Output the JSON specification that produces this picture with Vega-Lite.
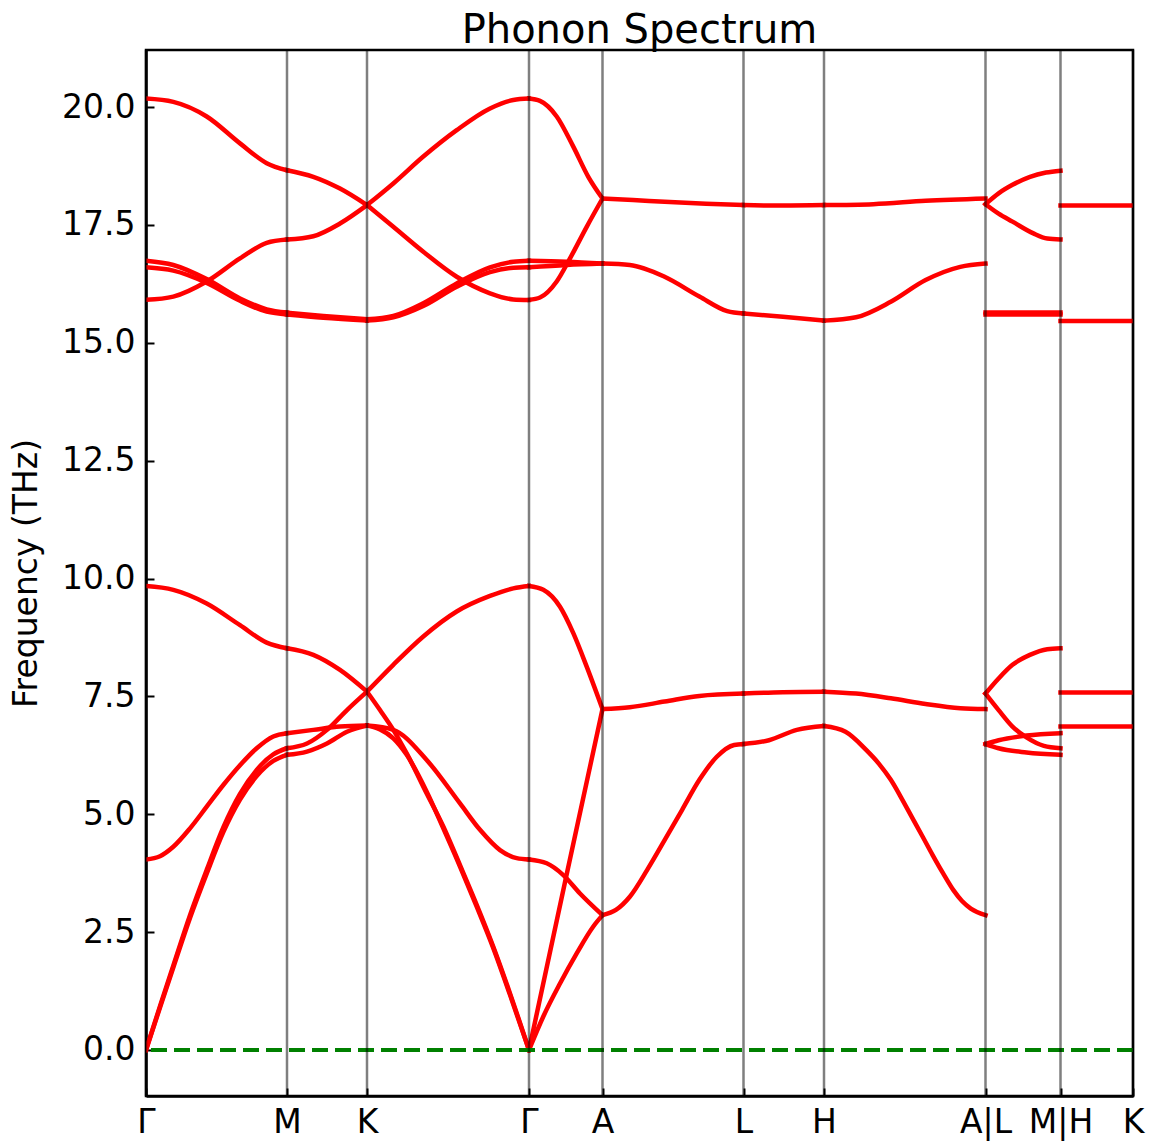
{
  "$schema": "https://vega.github.io/schema/vega-lite/v6.json",
  "width": 987,
  "height": 1046,
  "autosize": {"type": "none"},
  "padding": {"left": 146, "top": 50, "right": 23, "bottom": 46},
  "background": "white",
  "title": {"text": "Phonon Spectrum", "fontSize": 40, "font": "DejaVu Sans", "fontWeight": "normal", "color": "black", "anchor": "middle", "baseline": "bottom", "offset": -42},
  "config": {"view": {"stroke": "black", "strokeWidth": 2.5}, "font": "DejaVu Sans"},
  "layer": [
    {
      "data": {"values": [
        {"id":"b6_1","x":0,"y":20.18},{"id":"b6_1","x":27.3,"y":20.11},{"id":"b6_1","x":60.7,"y":19.80},{"id":"b6_1","x":94,"y":19.23},{"id":"b6_1","x":120.7,"y":18.81},{"id":"b6_1","x":141,"y":18.66},
        {"id":"b7_1","x":0,"y":15.91},{"id":"b7_1","x":27.3,"y":15.98},{"id":"b7_1","x":60.7,"y":16.30},{"id":"b7_1","x":94,"y":16.79},{"id":"b7_1","x":120.7,"y":17.12},{"id":"b7_1","x":141,"y":17.19},
        {"id":"b8_1","x":0,"y":16.74},{"id":"b8_1","x":27.3,"y":16.65},{"id":"b8_1","x":60.7,"y":16.35},{"id":"b8_1","x":94,"y":15.94},{"id":"b8_1","x":120.7,"y":15.71},{"id":"b8_1","x":141,"y":15.64},
        {"id":"b9_1","x":0,"y":16.60},{"id":"b9_1","x":27.3,"y":16.53},{"id":"b9_1","x":60.7,"y":16.27},{"id":"b9_1","x":94,"y":15.89},{"id":"b9_1","x":120.7,"y":15.66},{"id":"b9_1","x":141,"y":15.60},
        {"id":"b3_1","x":0,"y":9.84},{"id":"b3_1","x":27.3,"y":9.76},{"id":"b3_1","x":60.7,"y":9.47},{"id":"b3_1","x":94,"y":9.01},{"id":"b3_1","x":120.7,"y":8.64},{"id":"b3_1","x":141,"y":8.52},
        {"id":"b4_1","x":0,"y":4.04},{"id":"b4_1","x":14,"y":4.11},{"id":"b4_1","x":27.3,"y":4.31},{"id":"b4_1","x":44,"y":4.70},{"id":"b4_1","x":60.7,"y":5.16},{"id":"b4_1","x":77.3,"y":5.62},{"id":"b4_1","x":94,"y":6.04},{"id":"b4_1","x":110.7,"y":6.40},{"id":"b4_1","x":127.3,"y":6.65},{"id":"b4_1","x":141,"y":6.72},
        {"id":"b2_1","x":0,"y":0},{"id":"b2_1","x":14,"y":0.93},{"id":"b2_1","x":27.3,"y":1.79},{"id":"b2_1","x":44,"y":2.86},{"id":"b2_1","x":60.7,"y":3.82},{"id":"b2_1","x":77.3,"y":4.72},{"id":"b2_1","x":94,"y":5.43},{"id":"b2_1","x":110.7,"y":5.94},{"id":"b2_1","x":127.3,"y":6.27},{"id":"b2_1","x":141,"y":6.40},
        {"id":"b1_1","x":0,"y":0},{"id":"b1_1","x":14,"y":0.90},{"id":"b1_1","x":27.3,"y":1.75},{"id":"b1_1","x":44,"y":2.80},{"id":"b1_1","x":60.7,"y":3.74},{"id":"b1_1","x":77.3,"y":4.62},{"id":"b1_1","x":94,"y":5.31},{"id":"b1_1","x":110.7,"y":5.81},{"id":"b1_1","x":127.3,"y":6.13},{"id":"b1_1","x":141,"y":6.26},

        {"id":"b6_2","x":141,"y":18.66},{"id":"b6_2","x":167.3,"y":18.52},{"id":"b6_2","x":194,"y":18.27},{"id":"b6_2","x":221,"y":17.92},
        {"id":"b7_2","x":141,"y":17.19},{"id":"b7_2","x":167.3,"y":17.26},{"id":"b7_2","x":194,"y":17.53},{"id":"b7_2","x":221,"y":17.92},
        {"id":"b8_2","x":141,"y":15.64},{"id":"b8_2","x":177.3,"y":15.57},{"id":"b8_2","x":221,"y":15.50},
        {"id":"b9_2","x":141,"y":15.60},{"id":"b9_2","x":177.3,"y":15.53},{"id":"b9_2","x":221,"y":15.47},
        {"id":"b3_2","x":141,"y":8.52},{"id":"b3_2","x":167.3,"y":8.38},{"id":"b3_2","x":194,"y":8.06},{"id":"b3_2","x":221,"y":7.60},
        {"id":"b4_2","x":141,"y":6.72},{"id":"b4_2","x":167.3,"y":6.79},{"id":"b4_2","x":194,"y":6.86},{"id":"b4_2","x":221,"y":6.88},
        {"id":"b2_2","x":141,"y":6.40},{"id":"b2_2","x":161,"y":6.50},{"id":"b2_2","x":181,"y":6.79},{"id":"b2_2","x":201,"y":7.21},{"id":"b2_2","x":221,"y":7.60},
        {"id":"b1_2","x":141,"y":6.26},{"id":"b1_2","x":161,"y":6.33},{"id":"b1_2","x":181,"y":6.50},{"id":"b1_2","x":201,"y":6.75},{"id":"b1_2","x":221,"y":6.88},

        {"id":"b6_3","x":221,"y":17.92},{"id":"b6_3","x":247.3,"y":17.46},{"id":"b6_3","x":277.3,"y":16.93},{"id":"b6_3","x":310.7,"y":16.40},{"id":"b6_3","x":344,"y":16.05},{"id":"b6_3","x":367.3,"y":15.92},{"id":"b6_3","x":383,"y":15.91},
        {"id":"b7_3","x":221,"y":17.92},{"id":"b7_3","x":247.3,"y":18.38},{"id":"b7_3","x":277.3,"y":18.95},{"id":"b7_3","x":310.7,"y":19.51},{"id":"b7_3","x":344,"y":19.97},{"id":"b7_3","x":367.3,"y":20.15},{"id":"b7_3","x":383,"y":20.18},
        {"id":"b8_3","x":221,"y":15.50},{"id":"b8_3","x":247.3,"y":15.57},{"id":"b8_3","x":277.3,"y":15.84},{"id":"b8_3","x":310.7,"y":16.26},{"id":"b8_3","x":344,"y":16.60},{"id":"b8_3","x":367.3,"y":16.72},{"id":"b8_3","x":383,"y":16.74},
        {"id":"b9_3","x":221,"y":15.47},{"id":"b9_3","x":247.3,"y":15.54},{"id":"b9_3","x":277.3,"y":15.78},{"id":"b9_3","x":310.7,"y":16.19},{"id":"b9_3","x":344,"y":16.50},{"id":"b9_3","x":367.3,"y":16.59},{"id":"b9_3","x":383,"y":16.60},
        {"id":"b2_3","x":221,"y":7.60},{"id":"b2_3","x":247.3,"y":8.17},{"id":"b2_3","x":277.3,"y":8.77},{"id":"b2_3","x":310.7,"y":9.30},{"id":"b2_3","x":344,"y":9.63},{"id":"b2_3","x":367.3,"y":9.79},{"id":"b2_3","x":383,"y":9.84},
        {"id":"b3_3","x":221,"y":7.60},{"id":"b3_3","x":234,"y":7.21},{"id":"b3_3","x":247.3,"y":6.79},{"id":"b3_3","x":260.7,"y":6.29},{"id":"b3_3","x":280.7,"y":5.44},{"id":"b3_3","x":297.3,"y":4.74},{"id":"b3_3","x":314,"y":3.92},{"id":"b3_3","x":330.7,"y":3.08},{"id":"b3_3","x":347.3,"y":2.19},{"id":"b3_3","x":364,"y":1.20},{"id":"b3_3","x":383,"y":0},
        {"id":"b1_3","x":221,"y":6.88},{"id":"b1_3","x":234,"y":6.80},{"id":"b1_3","x":247.3,"y":6.61},{"id":"b1_3","x":260.7,"y":6.26},{"id":"b1_3","x":280.7,"y":5.48},{"id":"b1_3","x":297.3,"y":4.70},{"id":"b1_3","x":314,"y":3.89},{"id":"b1_3","x":330.7,"y":3.04},{"id":"b1_3","x":347.3,"y":2.16},{"id":"b1_3","x":364,"y":1.17},{"id":"b1_3","x":383,"y":0},
        {"id":"b4_3","x":221,"y":6.88},{"id":"b4_3","x":247.3,"y":6.79},{"id":"b4_3","x":280.7,"y":6.15},{"id":"b4_3","x":314,"y":5.23},{"id":"b4_3","x":334,"y":4.67},{"id":"b4_3","x":354,"y":4.24},{"id":"b4_3","x":370.7,"y":4.07},{"id":"b4_3","x":383,"y":4.04},

        {"id":"b6_4","x":383,"y":15.91},{"id":"b6_4","x":394,"y":15.96},{"id":"b6_4","x":410.7,"y":16.30},{"id":"b6_4","x":424,"y":16.79},{"id":"b6_4","x":440.7,"y":17.46},{"id":"b6_4","x":456.5,"y":18.06},
        {"id":"b7_4","x":383,"y":20.18},{"id":"b7_4","x":394,"y":20.13},{"id":"b7_4","x":410.7,"y":19.80},{"id":"b7_4","x":427.3,"y":19.16},{"id":"b7_4","x":442.3,"y":18.52},{"id":"b7_4","x":456.5,"y":18.06},
        {"id":"b8_4","x":383,"y":16.74},{"id":"b8_4","x":420.7,"y":16.72},{"id":"b8_4","x":456.5,"y":16.68},
        {"id":"b9_4","x":383,"y":16.60},{"id":"b9_4","x":420.7,"y":16.65},{"id":"b9_4","x":456.5,"y":16.68},
        {"id":"b2_4","x":383,"y":9.84},{"id":"b2_4","x":397.3,"y":9.76},{"id":"b2_4","x":414,"y":9.40},{"id":"b2_4","x":427.3,"y":8.84},{"id":"b2_4","x":440.7,"y":8.13},{"id":"b2_4","x":456.5,"y":7.23},
        {"id":"b3_4","x":383,"y":0},{"id":"b3_4","x":420,"y":3.66},{"id":"b3_4","x":456.5,"y":7.23},
        {"id":"b1_4","x":383,"y":0},{"id":"b1_4","x":397.3,"y":0.71},{"id":"b1_4","x":414,"y":1.41},{"id":"b1_4","x":430.7,"y":2.05},{"id":"b1_4","x":447.3,"y":2.62},{"id":"b1_4","x":456.5,"y":2.86},
        {"id":"b4_4","x":383,"y":4.04},{"id":"b4_4","x":400.7,"y":3.96},{"id":"b4_4","x":417.3,"y":3.71},{"id":"b4_4","x":434,"y":3.32},{"id":"b4_4","x":456.5,"y":2.86},

        {"id":"b6_5","x":456.5,"y":18.06},{"id":"b6_5","x":487,"y":18.03},{"id":"b6_5","x":518.6,"y":17.99},{"id":"b6_5","x":560,"y":17.95},{"id":"b6_5","x":597.5,"y":17.92},
        {"id":"b8_5","x":456.5,"y":16.68},{"id":"b8_5","x":483.8,"y":16.65},{"id":"b8_5","x":518.6,"y":16.40},{"id":"b8_5","x":553.4,"y":15.98},{"id":"b8_5","x":581.2,"y":15.67},{"id":"b8_5","x":597.5,"y":15.62},
        {"id":"b2_5","x":456.5,"y":7.23},{"id":"b2_5","x":483.8,"y":7.27},{"id":"b2_5","x":518.6,"y":7.39},{"id":"b2_5","x":553.4,"y":7.51},{"id":"b2_5","x":597.5,"y":7.56},
        {"id":"b1_5","x":456.5,"y":2.86},{"id":"b1_5","x":469.9,"y":2.97},{"id":"b1_5","x":483.8,"y":3.25},{"id":"b1_5","x":501.2,"y":3.82},{"id":"b1_5","x":518.6,"y":4.45},{"id":"b1_5","x":536,"y":5.09},{"id":"b1_5","x":553.4,"y":5.73},{"id":"b1_5","x":570.8,"y":6.22},{"id":"b1_5","x":588.2,"y":6.47},{"id":"b1_5","x":597.5,"y":6.49},

        {"id":"b6_6","x":597.5,"y":17.92},{"id":"b6_6","x":637,"y":17.91},{"id":"b6_6","x":678,"y":17.92},
        {"id":"b8_6","x":597.5,"y":15.62},{"id":"b8_6","x":636.9,"y":15.55},{"id":"b8_6","x":678,"y":15.47},
        {"id":"b2_6","x":597.5,"y":7.56},{"id":"b2_6","x":636.9,"y":7.59},{"id":"b2_6","x":678,"y":7.60},
        {"id":"b1_6","x":597.5,"y":6.49},{"id":"b1_6","x":623,"y":6.57},{"id":"b1_6","x":650.8,"y":6.79},{"id":"b1_6","x":678,"y":6.87},

        {"id":"b6_7","x":678,"y":17.92},{"id":"b6_7","x":727.4,"y":17.94},{"id":"b6_7","x":779.6,"y":18.01},{"id":"b6_7","x":839.5,"y":18.06},
        {"id":"b8_7","x":678,"y":15.47},{"id":"b8_7","x":710,"y":15.54},{"id":"b8_7","x":744.8,"y":15.87},{"id":"b8_7","x":779.6,"y":16.33},{"id":"b8_7","x":814.3,"y":16.61},{"id":"b8_7","x":839.5,"y":16.68},
        {"id":"b2_7","x":678,"y":7.60},{"id":"b2_7","x":710,"y":7.56},{"id":"b2_7","x":744.8,"y":7.46},{"id":"b2_7","x":779.6,"y":7.34},{"id":"b2_7","x":814.3,"y":7.25},{"id":"b2_7","x":839.5,"y":7.23},
        {"id":"b1_7","x":678,"y":6.87},{"id":"b1_7","x":699.5,"y":6.75},{"id":"b1_7","x":720.4,"y":6.36},{"id":"b1_7","x":733,"y":6.07},{"id":"b1_7","x":744.8,"y":5.73},{"id":"b1_7","x":755,"y":5.36},{"id":"b1_7","x":765.6,"y":4.95},{"id":"b1_7","x":776,"y":4.55},{"id":"b1_7","x":786.5,"y":4.14},{"id":"b1_7","x":797,"y":3.75},{"id":"b1_7","x":807.4,"y":3.39},{"id":"b1_7","x":816,"y":3.16},{"id":"b1_7","x":824.8,"y":3.00},{"id":"b1_7","x":839.5,"y":2.86},

        {"id":"c1","x":839.5,"y":17.94},{"id":"c1","x":852.6,"y":18.17},{"id":"c1","x":866.5,"y":18.35},{"id":"c1","x":884,"y":18.52},{"id":"c1","x":900,"y":18.61},{"id":"c1","x":914.5,"y":18.65},
        {"id":"c2","x":839.5,"y":17.94},{"id":"c2","x":852.6,"y":17.74},{"id":"c2","x":866.5,"y":17.57},{"id":"c2","x":887.4,"y":17.32},{"id":"c2","x":901.3,"y":17.21},{"id":"c2","x":914.5,"y":17.19},
        {"id":"c3","x":839.5,"y":15.64},{"id":"c3","x":914.5,"y":15.64},
        {"id":"c3b","x":839.5,"y":15.60},{"id":"c3b","x":914.5,"y":15.60},
        {"id":"c4","x":839.5,"y":7.56},{"id":"c4","x":852.6,"y":7.88},{"id":"c4","x":866.5,"y":8.17},{"id":"c4","x":883.9,"y":8.38},{"id":"c4","x":901.3,"y":8.50},{"id":"c4","x":914.5,"y":8.52},
        {"id":"c5","x":839.5,"y":7.56},{"id":"c5","x":852.6,"y":7.21},{"id":"c5","x":866.5,"y":6.86},{"id":"c5","x":880.5,"y":6.63},{"id":"c5","x":897.9,"y":6.45},{"id":"c5","x":914.5,"y":6.40},
        {"id":"c6","x":839.5,"y":6.49},{"id":"c6","x":852.6,"y":6.57},{"id":"c6","x":880.5,"y":6.67},{"id":"c6","x":914.5,"y":6.72},
        {"id":"c7","x":839.5,"y":6.49},{"id":"c7","x":852.6,"y":6.40},{"id":"c7","x":880.5,"y":6.31},{"id":"c7","x":914.5,"y":6.26},

        {"id":"d1","x":914.5,"y":17.91},{"id":"d1","x":987,"y":17.91},
        {"id":"d2","x":914.5,"y":15.46},{"id":"d2","x":987,"y":15.46},
        {"id":"d3","x":914.5,"y":7.58},{"id":"d3","x":987,"y":7.58},
        {"id":"d4","x":914.5,"y":6.86},{"id":"d4","x":987,"y":6.86}
      ]},
      "mark": {"type": "line", "color": "#ff0000", "strokeWidth": 4.5, "strokeCap": "square", "interpolate": "monotone", "clip": true},
      "encoding": {
        "x": {"field": "x", "type": "quantitative", "scale": {"domain": [0, 987], "nice": false, "zero": false},
          "axis": {"title": null, "values": [0, 141, 221, 383, 456.5, 597.5, 678, 839.5, 914.5, 987],
            "labelExpr": "datum.value == 0 ? 'Γ' : datum.value == 141 ? 'M' : datum.value == 221 ? 'K' : datum.value == 383 ? 'Γ' : datum.value == 456.5 ? 'A' : datum.value == 597.5 ? 'L' : datum.value == 678 ? 'H' : datum.value == 839.5 ? 'A|L' : datum.value == 914.5 ? 'M|H' : 'K'",
            "grid": false, "tickSize": -8, "tickWidth": 2, "tickColor": "black", "labelPadding": 18, "labelFontSize": 33, "labelFont": "DejaVu Sans", "labelColor": "black", "labelFlush": false, "labelOverlap": false, "labelBound": false, "domain": true, "domainColor": "black", "domainWidth": 2.5}},
        "y": {"field": "y", "type": "quantitative", "scale": {"domain": [-0.976, 21.21], "nice": false, "zero": false},
          "axis": {"title": "Frequency (THz)", "values": [0, 2.5, 5, 7.5, 10, 12.5, 15, 17.5, 20], "format": ".1f",
            "grid": false, "tickSize": -8, "tickWidth": 2, "tickColor": "black", "labelPadding": 19, "labelFontSize": 33, "labelFont": "DejaVu Sans", "labelColor": "black", "labelFlush": false, "labelOverlap": false,
            "domain": true, "domainColor": "black", "domainWidth": 2.5,
            "titleFontSize": 33, "titleFont": "DejaVu Sans", "titleFontWeight": "normal", "titleColor": "black", "titleX": -110, "titleBaseline": "alphabetic"}},
        "detail": {"field": "id", "type": "nominal"}
      }
    },
    {
      "data": {"values": [{}]},
      "mark": {"type": "rule", "color": "#008000", "strokeWidth": 4, "strokeDash": [16, 7]},
      "encoding": {"y": {"datum": 0}}
    },
    {
      "data": {"values": [{"x":0},{"x":141},{"x":221},{"x":383},{"x":456.5},{"x":597.5},{"x":678},{"x":839.5},{"x":914.5},{"x":987}]},
      "mark": {"type": "rule", "color": "black", "opacity": 0.5, "strokeWidth": 2.5},
      "encoding": {
        "x": {"field": "x", "type": "quantitative", "scale": {"domain": [0, 987], "nice": false, "zero": false},
          "axis": {"title": null, "values": [0, 141, 221, 383, 456.5, 597.5, 678, 839.5, 914.5, 987],
            "labelExpr": "datum.value == 0 ? 'Γ' : datum.value == 141 ? 'M' : datum.value == 221 ? 'K' : datum.value == 383 ? 'Γ' : datum.value == 456.5 ? 'A' : datum.value == 597.5 ? 'L' : datum.value == 678 ? 'H' : datum.value == 839.5 ? 'A|L' : datum.value == 914.5 ? 'M|H' : 'K'",
            "grid": false, "tickSize": -8, "tickWidth": 2, "tickColor": "black", "labelPadding": 18, "labelFontSize": 33, "labelFont": "DejaVu Sans", "labelColor": "black", "labelFlush": false, "labelOverlap": false, "labelBound": false, "domain": true, "domainColor": "black", "domainWidth": 2.5}}
      }
    }
  ]
}
